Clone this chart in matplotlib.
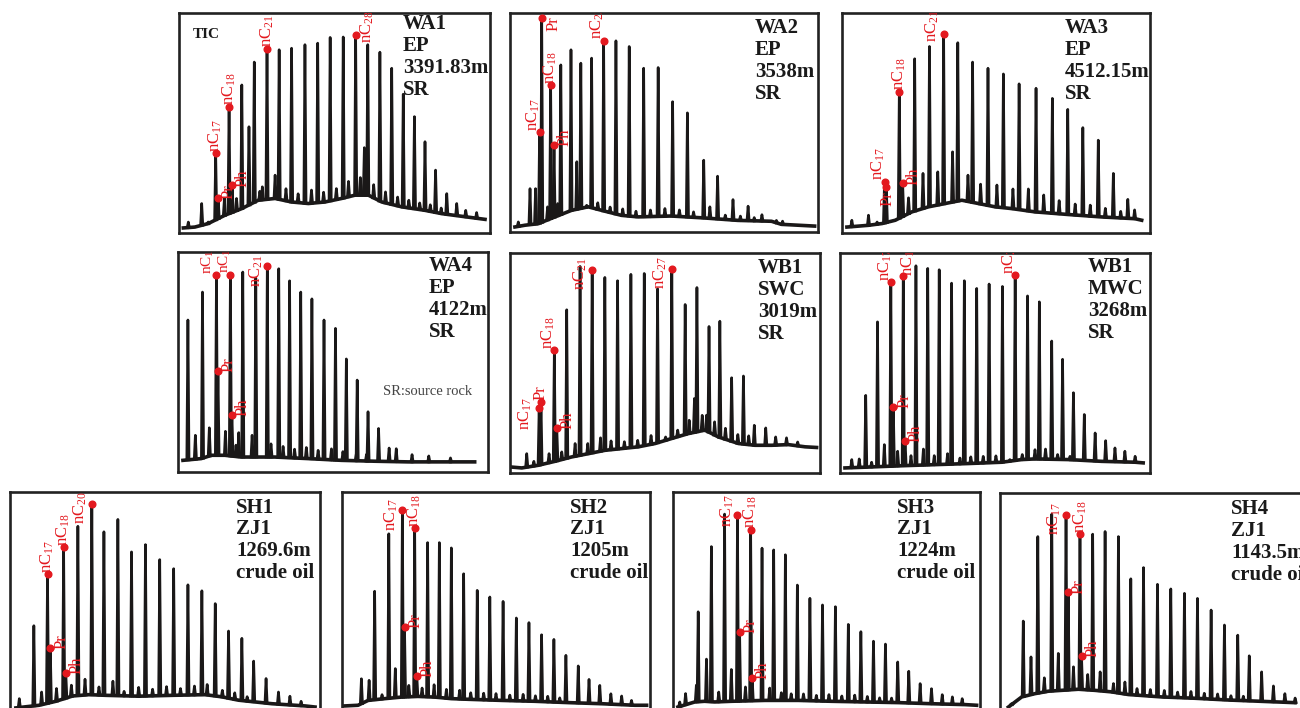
import numpy as np
import matplotlib.pyplot as plt

plt.rcParams['font.family'] = ['Liberation Serif', 'DejaVu Serif']
plt.rcParams['mathtext.fontset'] = 'custom'
plt.rcParams['mathtext.rm'] = 'Liberation Serif'
plt.rcParams['mathtext.it'] = 'Liberation Serif:italic'

INK = '#1a1818'
RED = '#e3191f'

# retention position (% of run) and abundance (% of full scale)

# WA1 EP 3391.83m
wa1_base_x = [1.4, 5.1, 9.4, 14.8, 20.2, 25.5, 30.9, 36.2, 41.6, 46.9, 52.3, 56.6, 60.9, 65.2, 71.6, 79.1, 84.5, 89.8, 98.4]
wa1_base_y = [2.3, 2.7, 4.3, 8.1, 11.1, 14.9, 15.7, 14.1, 13.4, 14.1, 15.7, 17.2, 17.2, 14.1, 11.9, 10.3, 8.8, 7.8, 6.2]
wa1_peak_x = [7.3, 9.4, 11.8, 12.6, 14.6, 16.1, 17.1, 18.5, 20.2, 22.5, 24.2, 26.8, 28.3, 30.9, 32.2, 36.2, 40.5,
              44.6, 48.6, 52.8, 56.8, 59.6, 60.7, 64.6, 68.4, 72.1, 75.7, 79.1, 82.5, 86.1, 89.3, 92.2, 95.7]
wa1_peak_y = [13.4, 5.0, 36.2, 16.0, 15.7, 57.4, 21.7, 15.7, 67.3, 48.3, 77.7, 21.0, 83.7, 26.3, 83.3, 84.0, 85.6,
              86.3, 88.9, 89.1, 90.1, 38.8, 85.6, 82.2, 74.9, 63.1, 52.9, 41.5, 28.6, 17.9, 13.4, 10.3, 9.3]
wa1_minor_x = [3.0, 26.0, 34.4, 38.3, 42.6, 46.5, 50.6, 54.5, 58.3, 62.6, 66.4, 70.3, 73.9, 77.4, 80.8, 84.3]
wa1_minor_h = [2.5, 4.0, 5.5, 4.0, 6.0, 4.5, 5.0, 7.0, 8.0, 6.0, 5.0, 4.0, 3.5, 3.0, 3.0, 2.5]
wa1_tags = [('nC17', 11.8), ('Pr', 12.6), ('nC18', 16.1), ('Ph', 17.1), ('nC21', 28.3), ('nC28', 56.8)]

# WA2 EP 3538m
wa2_base_x = [1.6, 4.9, 9.2, 14.6, 20.0, 25.4, 30.8, 36.2, 41.6, 52.4, 63.2, 74.0, 84.9, 88.1, 98.9]
wa2_base_y = [2.3, 3.1, 3.8, 6.9, 9.9, 11.5, 9.5, 7.6, 6.9, 7.3, 6.4, 5.3, 4.9, 3.5, 2.7]
wa2_peak_x = [2.7, 6.5, 8.3, 9.6, 10.3, 12.2, 13.2, 14.3, 15.5, 16.5, 19.8, 21.7, 23.0, 24.9, 26.5, 30.4, 34.4,
              38.7, 43.4, 48.1, 52.8, 57.6, 62.9, 64.9, 67.4, 72.4, 77.3, 81.8, 86.5]
wa2_peak_y = [4.6, 19.8, 19.8, 45.5, 97.7, 11.5, 66.9, 39.7, 13.0, 76.3, 83.2, 32.1, 77.1, 12.2, 79.4, 87.3, 87.3,
              84.7, 74.8, 75.1, 59.5, 54.4, 32.8, 11.5, 25.5, 14.8, 11.8, 7.9, 5.3]
wa2_minor_x = [28.5, 32.5, 36.6, 40.9, 45.6, 50.3, 55.0, 59.6, 69.9, 74.8, 79.3, 88.5]
wa2_minor_h = [3.0, 2.5, 3.0, 2.5, 3.0, 3.5, 3.0, 2.5, 2.0, 2.0, 1.5, 1.5]
wa2_tags = [('nC17', 9.6), ('Pr', 10.3), ('nC18', 13.2), ('Ph', 14.3), ('nC23', 30.4)]

# WA3 EP 4512.15m
wa3_base_x = [1.6, 8.6, 13.0, 17.3, 22.7, 28.1, 33.5, 38.9, 44.3, 49.7, 55.1, 62.7, 73.5, 84.3, 95.1, 97.3]
wa3_base_y = [2.7, 3.5, 4.3, 5.8, 9.6, 11.9, 13.4, 14.9, 13.4, 11.9, 11.1, 9.6, 8.4, 7.3, 6.5, 5.8]
wa3_peak_x = [3.2, 8.6, 11.4, 13.8, 14.4, 18.6, 19.7, 21.6, 23.6, 26.3, 28.4, 31.1, 33.0, 35.9, 37.6, 40.9, 42.4,
              47.4, 52.4, 57.5, 63.0, 68.3, 73.3, 78.2, 83.2, 88.1, 92.8]
wa3_peak_y = [5.8, 8.1, 5.0, 23.3, 21.0, 64.3, 22.5, 16.0, 79.2, 27.1, 84.8, 27.8, 90.4, 36.9, 86.5, 26.3, 77.7,
              74.9, 72.3, 67.8, 65.8, 61.2, 56.2, 47.9, 42.2, 27.1, 15.3]
wa3_minor_x = [45.0, 50.3, 55.5, 60.5, 65.5, 70.5, 75.7, 80.6, 85.5, 90.5, 95.0]
wa3_minor_h = [9.0, 10.0, 9.0, 10.0, 8.0, 6.0, 5.0, 5.0, 4.0, 3.0, 4.0]
wa3_tags = [('nC17', 13.8), ('Pr', 14.4), ('nC18', 18.6), ('Ph', 19.7), ('nC21', 33.0)]

# WA4 EP 4122m
wa4_base_x = [1.6, 7.5, 10.8, 15.1, 20.4, 31.2, 41.9, 52.7, 63.4, 74.2, 84.9, 95.7]
wa4_base_y = [5.3, 6.1, 7.6, 7.6, 6.8, 6.8, 6.1, 5.3, 4.9, 4.6, 4.6, 4.6]
wa4_peak_x = [3.2, 5.6, 7.9, 10.1, 12.4, 12.9, 15.3, 16.9, 17.4, 18.7, 19.6, 20.9, 23.9, 25.1, 28.8, 32.5, 36.0,
              39.6, 43.2, 47.1, 50.8, 54.3, 57.8, 61.3, 64.7, 68.1, 70.4, 75.5, 80.9, 87.9]
wa4_peak_y = [69.1, 16.7, 81.8, 20.1, 89.4, 45.9, 18.5, 89.7, 26.1, 12.2, 17.9, 90.9, 16.7, 88.1, 93.5, 92.4, 86.9,
              81.8, 78.7, 69.1, 65.3, 51.4, 41.8, 27.4, 19.8, 10.9, 10.6, 7.9, 7.3, 6.4]
wa4_minor_x = [30.0, 33.9, 37.6, 41.4, 45.2, 49.5, 53.2, 57.5, 60.8]
wa4_minor_h = [6, 5, 4, 5, 4, 5, 4, 3, 3]
wa4_tags = [('nC17', 12.4), ('Pr', 12.9), ('nC18', 16.9), ('Ph', 17.4), ('nC21', 28.8)]

# WB1 SWC 3019m
wbs_base_x = [0.5, 3.8, 9.1, 14.5, 19.9, 25.3, 30.6, 36.0, 41.4, 46.8, 52.2, 57.5, 62.9, 67.2, 73.7, 79.0, 84.4, 89.8, 95.2, 98.9]
wbs_base_y = [2.7, 2.3, 3.5, 5.3, 7.3, 8.8, 10.3, 11.1, 11.9, 13.4, 15.7, 17.9, 19.5, 16.4, 13.4, 12.6, 12.6, 12.9, 11.9, 11.6]
wbs_peak_x = [5.4, 7.7, 9.4, 10.0, 12.6, 14.3, 15.1, 16.7, 18.3, 21.0, 22.6, 25.1, 26.5, 29.2, 30.6, 34.7, 39.0,
              43.3, 47.6, 50.2, 52.2, 54.1, 56.5, 59.5, 60.3, 63.4, 64.2, 67.7, 71.5, 75.3, 78.8, 82.5, 85.7, 89.2, 92.8]
wbs_peak_y = [8.8, 5.3, 29.5, 32.4, 8.8, 55.9, 20.5, 9.6, 74.2, 13.4, 93.9, 13.4, 92.4, 16.0, 88.9, 87.4, 90.3,
              90.7, 83.7, 16.4, 92.9, 19.5, 76.6, 33.9, 84.3, 26.3, 66.6, 69.0, 43.3, 44.1, 21.7, 20.5, 16.4, 16.0, 14.1]
wbs_minor_x = [32.6, 36.9, 41.2, 45.5, 57.8, 62.0, 66.0, 69.5, 73.5, 77.0]
wbs_minor_h = [4, 3, 3, 4, 6, 7, 6, 5, 4, 4]
wbs_tags = [('nC17', 9.4), ('Pr', 10.0), ('nC18', 14.3), ('Ph', 15.1), ('nC21', 26.5), ('nC27', 52.2)]

# WB1 MWC 3268m
wbm_base_x = [1.6, 9.1, 19.9, 30.6, 41.4, 52.2, 58.6, 62.9, 73.7, 84.4, 95.2, 97.8]
wbm_base_y = [2.3, 2.7, 3.3, 3.8, 4.3, 4.9, 6.1, 6.4, 6.1, 5.3, 4.9, 4.6]
wbm_peak_x = [3.8, 6.2, 8.3, 10.2, 12.1, 14.3, 16.4, 17.2, 18.6, 20.4, 21.0, 22.9, 24.5, 26.9, 28.3, 30.4, 32.0,
              34.7, 36.0, 38.7, 40.1, 44.1, 48.1, 52.4, 54.8, 56.5, 58.8, 60.5, 62.9, 64.3, 66.3, 68.3, 70.2, 71.8,
              74.2, 75.3, 78.8, 82.3, 85.7, 88.7, 91.9, 95.2]
wbm_peak_y = [6.1, 6.4, 35.3, 4.9, 68.7, 12.9, 86.6, 30.1, 9.9, 89.4, 14.7, 7.9, 94.2, 10.9, 93.0, 7.9, 92.4,
              8.8, 86.3, 6.8, 87.4, 83.9, 85.9, 84.8, 6.1, 90.0, 8.4, 80.5, 10.6, 77.8, 10.9, 60.0, 8.4, 51.7,
              7.6, 36.5, 26.6, 18.2, 14.7, 11.4, 9.9, 7.6]
wbm_minor_x = [42.2, 46.2, 50.3]
wbm_minor_h = [3, 3, 3]
wbm_tags = [('nC17', 16.4), ('Pr', 17.2), ('nC18', 20.4), ('Ph', 21.0), ('nC27', 56.5)]

# SH1 ZJ1 1269.6m
sh1_base_x = [1.9, 9.4, 14.8, 20.2, 25.5, 30.9, 41.6, 52.3, 63.0, 68.4, 73.7, 84.5, 95.2, 98.4]
sh1_base_y = [2.3, 3.5, 5.3, 7.7, 8.3, 8.0, 7.6, 8.0, 8.3, 7.3, 5.8, 4.2, 3.2, 2.7]
sh1_peak_x = [3.0, 7.7, 10.2, 12.1, 13.0, 15.0, 17.3, 18.0, 19.8, 21.9, 24.2, 26.4, 28.7, 30.3, 33.2, 34.8, 36.8,
              39.2, 43.7, 48.3, 52.8, 57.4, 61.9, 63.6, 66.2, 70.5, 74.8, 78.6, 82.6, 86.6, 90.3, 93.9]
sh1_peak_y = [6.5, 39.5, 9.5, 62.9, 29.5, 11.1, 75.0, 18.3, 12.6, 84.5, 15.3, 94.7, 11.8, 82.0, 14.4, 87.6, 9.8,
              72.9, 76.2, 69.4, 65.3, 58.0, 55.3, 12.9, 49.5, 37.1, 33.8, 23.5, 15.6, 9.5, 7.6, 5.3]
sh1_minor_x = [41.5, 46.0, 50.5, 55.0, 59.5, 68.5, 72.5, 76.5]
sh1_minor_h = [4, 3, 4, 3, 4, 3, 3, 2]
sh1_tags = [('nC17', 12.1), ('Pr', 13.0), ('nC18', 17.3), ('Ph', 18.0), ('nC20', 26.4)]

# SH2 ZJ1 1205m
sh2_base_x = [0.9, 5.2, 8.5, 13.9, 19.3, 24.7, 30.1, 35.5, 41.0, 51.8, 62.6, 73.5, 84.3, 95.1, 98.9]
sh2_base_y = [3.2, 3.5, 5.7, 6.5, 7.2, 7.5, 7.2, 6.5, 6.2, 5.7, 5.3, 4.7, 4.2, 3.5, 3.5]
sh2_peak_x = [6.3, 8.8, 10.6, 13.0, 15.2, 17.3, 19.6, 20.3, 21.7, 23.6, 24.3, 26.0, 27.8, 29.9, 31.6, 33.9, 35.5,
              38.2, 39.5, 43.9, 48.0, 52.3, 56.6, 60.7, 64.8, 68.8, 72.7, 76.7, 80.2, 83.7, 87.3, 90.8, 94.0]
sh2_peak_y = [15.5, 14.8, 55.1, 8.3, 81.1, 20.1, 91.7, 38.9, 12.5, 83.7, 16.7, 11.3, 77.1, 12.8, 77.1, 10.7, 74.7,
              10.3, 63.0, 55.5, 52.5, 50.5, 43.0, 40.9, 35.4, 33.3, 26.1, 21.3, 15.2, 12.5, 8.7, 7.7, 5.7]
sh2_minor_x = [41.8, 46.0, 50.0, 54.5, 58.8, 62.8, 66.8, 70.7]
sh2_minor_h = [3, 3, 3, 2.5, 3, 2.5, 2.5, 2]
sh2_tags = [('nC17', 19.6), ('Pr', 20.3), ('nC18', 23.6), ('Ph', 24.3)]

# SH3 ZJ1 1224m
sh3_base_x = [1.6, 7.1, 10.3, 13.6, 19.0, 29.9, 40.8, 51.6, 62.5, 73.4, 84.2, 95.1, 98.9]
sh3_base_y = [2.7, 5.0, 5.3, 5.0, 5.3, 5.7, 5.7, 5.3, 5.0, 4.7, 4.2, 3.8, 3.5]
sh3_peak_x = [2.2, 4.1, 7.6, 8.2, 10.9, 12.5, 14.9, 16.8, 19.0, 21.0, 21.7, 23.6, 25.3, 25.8, 29.0, 31.5, 32.8,
              35.3, 36.6, 40.5, 44.6, 48.7, 52.9, 57.1, 61.2, 65.3, 69.2, 73.2, 76.8, 80.5, 84.2, 87.7, 91.0, 94.2]
sh3_peak_y = [5.0, 8.8, 12.6, 45.8, 24.4, 75.3, 9.5, 90.0, 19.7, 89.7, 36.8, 11.8, 82.9, 15.9, 74.6, 11.3, 73.8,
              9.2, 71.6, 57.9, 51.9, 48.9, 48.1, 40.1, 36.8, 32.5, 31.2, 23.1, 18.9, 13.3, 11.0, 8.3, 7.3, 6.5]
sh3_minor_x = [38.5, 42.5, 46.7, 50.8, 55.0, 59.2, 63.3, 67.3, 71.2]
sh3_minor_h = [3, 3, 2.5, 3, 2.5, 3, 2.5, 2, 2]
sh3_tags = [('nC17', 21.0), ('Pr', 21.7), ('nC18', 25.3), ('Ph', 25.8)]

# SH4 ZJ1 1143.5m
sh4_base_x = [2.7, 7.0, 11.3, 15.6, 19.9, 25.3, 30.6, 36.0, 41.4, 52.2, 62.9, 73.7, 84.4, 95.2]
sh4_base_y = [2.7, 7.3, 8.8, 9.9, 10.3, 10.8, 10.3, 9.6, 8.4, 7.3, 6.7, 5.9, 5.3, 4.7]
sh4_peak_x = [3.8, 7.5, 10.0, 12.2, 14.3, 16.7, 18.8, 21.3, 22.0, 23.7, 25.8, 26.3, 28.3, 29.9, 32.3, 33.9, 36.6,
              38.2, 40.3, 42.2, 46.3, 50.8, 55.1, 59.5, 63.7, 68.1, 72.4, 76.7, 80.4, 84.4, 88.2, 91.9, 95.2]
sh4_peak_y = [4.3, 41.8, 25.5, 80.2, 16.0, 90.4, 27.1, 90.1, 54.9, 21.0, 81.3, 26.0, 17.5, 81.3, 18.7, 82.5, 13.4,
              80.2, 14.1, 61.0, 66.1, 58.5, 56.4, 54.4, 52.1, 46.8, 40.0, 35.4, 26.0, 18.7, 12.3, 8.8, 6.8]
sh4_minor_x = [44.2, 48.5, 53.0, 57.3, 61.6, 65.9, 70.2, 74.5, 78.5]
sh4_minor_h = [3, 3, 3, 2.5, 3, 2.5, 2.5, 2, 2]
sh4_tags = [('nC17', 21.3), ('Pr', 22.0), ('nC18', 25.8), ('Ph', 26.3)]

sample_text = {
    'WA1': 'WA1\nEP\n3391.83m\nSR',
    'WA2': 'WA2\nEP\n3538m\nSR',
    'WA3': 'WA3\nEP\n4512.15m\nSR',
    'WA4': 'WA4\nEP\n4122m\nSR',
    'WBS': 'WB1\nSWC\n3019m\nSR',
    'WBM': 'WB1\nMWC\n3268m\nSR',
    'SH1': 'SH1\nZJ1\n1269.6m\ncrude oil',
    'SH2': 'SH2\nZJ1\n1205m\ncrude oil',
    'SH3': 'SH3\nZJ1\n1224m\ncrude oil',
    'SH4': 'SH4\nZJ1\n1143.5m\ncrude oil',
}

# layout: frame box in pixels (left, top, right, bottom) and sample text anchor
W, H = 1300, 708
panels = [
    ('WA1', (179, 13, 490, 233), (0.72, 0.995), wa1_base_x, wa1_base_y, wa1_peak_x, wa1_peak_y, wa1_minor_x, wa1_minor_h, wa1_tags),
    ('WA2', (510, 13, 818, 232), (0.795, 0.978), wa2_base_x, wa2_base_y, wa2_peak_x, wa2_peak_y, wa2_minor_x, wa2_minor_h, wa2_tags),
    ('WA3', (842, 13, 1150, 233), (0.724, 0.978), wa3_base_x, wa3_base_y, wa3_peak_x, wa3_peak_y, wa3_minor_x, wa3_minor_h, wa3_tags),
    ('WA4', (178, 252, 488, 472), (0.81, 0.983), wa4_base_x, wa4_base_y, wa4_peak_x, wa4_peak_y, wa4_minor_x, wa4_minor_h, wa4_tags),
    ('WBS', (510, 253, 820, 473), (0.80, 0.978), wbs_base_x, wbs_base_y, wbs_peak_x, wbs_peak_y, wbs_minor_x, wbs_minor_h, wbs_tags),
    ('WBM', (840, 253, 1150, 473), (0.80, 0.983), wbm_base_x, wbm_base_y, wbm_peak_x, wbm_peak_y, wbm_minor_x, wbm_minor_h, wbm_tags),
    ('SH1', (10, 492, 320, 713), (0.73, 0.975), sh1_base_x, sh1_base_y, sh1_peak_x, sh1_peak_y, sh1_minor_x, sh1_minor_h, sh1_tags),
    ('SH2', (342, 492, 650, 713), (0.74, 0.975), sh2_base_x, sh2_base_y, sh2_peak_x, sh2_peak_y, sh2_minor_x, sh2_minor_h, sh2_tags),
    ('SH3', (673, 492, 980, 713), (0.73, 0.975), sh3_base_x, sh3_base_y, sh3_peak_x, sh3_peak_y, sh3_minor_x, sh3_minor_h, sh3_tags),
    ('SH4', (1000, 493, 1310, 713), (0.745, 0.973), sh4_base_x, sh4_base_y, sh4_peak_x, sh4_peak_y, sh4_minor_x, sh4_minor_h, sh4_tags),
]

# where a red tag sits relative to its dot: (dx, dy) in points, ha, va
place = {
    'up': ((0, 1), 'center', 'bottom'),
    'upleft': ((2, 1), 'right', 'bottom'),
    'left': ((-2, -3), 'right', 'center'),
    'right': ((2, -1), 'left', 'bottom'),
    'rightc': ((3, -4), 'left', 'center'),
    'down': ((1, -3), 'center', 'top'),
}
tag_mode = {
    ('WA1', 'nC28'): ((2, 6), 'left', 'center'),
    ('WA2', 'nC17'): 'upleft', ('WA2', 'Pr'): 'rightc', ('WA2', 'nC23'): 'upleft',
    ('WA3', 'nC17'): 'upleft', ('WA3', 'Pr'): 'down', ('WA3', 'nC21'): ((-2, 6), 'right', 'center'),
    ('WA4', 'nC17'): ((0, 1), 'right', 'bottom'), ('WA4', 'nC18'): ((2, 1), 'right', 'bottom'),
    ('WA4', 'nC21'): 'left',
    ('WBS', 'nC17'): ((-4, -4), 'right', 'center'), ('WBS', 'Pr'): 'up', ('WBS', 'nC18'): 'upleft',
    ('WBS', 'nC21'): 'left', ('WBS', 'nC27'): 'left',
    ('WBM', 'nC17'): 'upleft', ('WBM', 'nC18'): ((4, 0), 'center', 'bottom'), ('WBM', 'nC27'): 'upleft',
    ('SH1', 'nC20'): 'left', ('SH2', 'nC17'): 'left',
    ('SH3', 'nC17'): ((-1, 3), 'right', 'center'), ('SH4', 'nC17'): 'left',
}
tag_size = {('WA4', 'nC17'): 11, ('WA4', 'nC18'): 11}

HW = 0.36  # half width of a peak, % of run

fig = plt.figure(figsize=(W / 100, H / 100), dpi=100)

for key, (l, t, r, b), (tx, ty), bx, by, px, py, mx, mh, tags in panels:
    ax = fig.add_axes([l / W, 1 - b / H, (r - l) / W, (b - t) / H])
    ax.set_xlim(0, 100)
    ax.set_ylim(0, 100)
    ax.set_xticks([])
    ax.set_yticks([])
    for s in ax.spines.values():
        s.set_linewidth(1.9)
        s.set_color('#222222')

    ax.plot(bx, by, color=INK, lw=2.6, solid_joinstyle='round', zorder=2)

    px = np.asarray(px)
    py = np.asarray(py)
    for xs, ys in ((px, py), (np.asarray(mx), np.interp(mx, bx, by) + np.asarray(mh))):
        floor = np.interp(xs, bx, by)
        for x, top, f in zip(xs, ys, floor):
            ax.plot([x - HW, x, x + HW], [f, top, f], color=INK, lw=1.9, zorder=3)

    for name, x in tags:
        i = np.argmin(np.abs(px - x))
        xx, yy = px[i], py[i]
        ax.plot(xx, yy, 'o', color=RED, ms=4.8, mec=RED, zorder=5)
        mode = tag_mode.get((key, name), 'up' if name.startswith('nC') else 'right')
        off, ha, va = place[mode] if isinstance(mode, str) else mode
        label = 'nC$_{' + name[2:] + '}$' if name.startswith('nC') else name
        ax.annotate(label, xy=(xx, yy), xytext=off, textcoords='offset points',
                    rotation=90, ha=ha, va=va, color=RED, fontsize=tag_size.get((key, name), 12),
                    clip_on=True, zorder=6)

    ax.text(tx, ty, sample_text[key], transform=ax.transAxes, ha='left', va='top',
            fontsize=15, fontweight='bold', linespacing=1.13, color='#1a1a1a', clip_on=False)

    if key == 'WA1':
        ax.text(0.045, 0.90, 'TIC', transform=ax.transAxes, ha='left', va='center',
                fontsize=11, fontweight='bold', color='#1a1a1a')
    if key == 'WA4':
        ax.text(0.66, 0.365, 'SR:source rock', transform=ax.transAxes, ha='left', va='center',
                fontsize=10.5, color='#444444')

fig.savefig('out.png', dpi=100)
